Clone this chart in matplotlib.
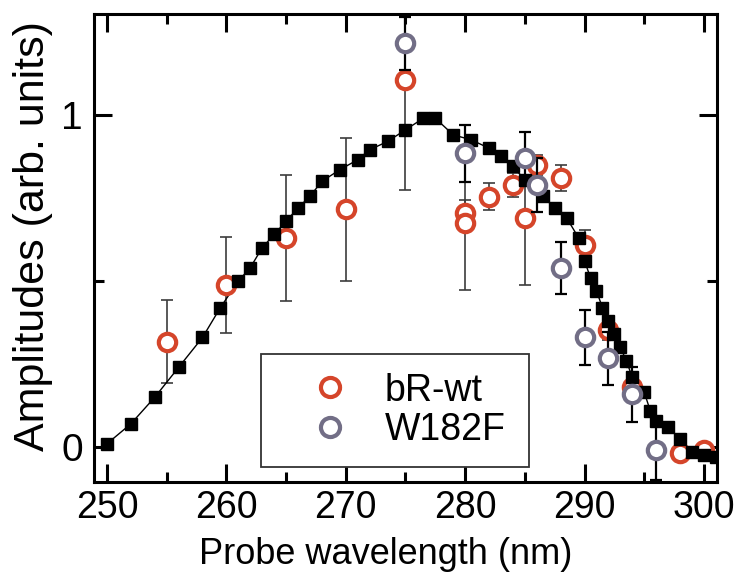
import matplotlib
matplotlib.use('Agg')
import matplotlib.pyplot as plt
from matplotlib.ticker import MultipleLocator

# absorption spectrum (black squares)
curve_wl = [250, 252, 254, 256, 258, 259.5, 261, 262, 263, 264, 265, 266, 267, 268,
            269.5, 271, 272, 273.5, 275, 276.5, 277.5, 279, 280.5, 282, 283, 284, 285,
            286.5, 287.5, 288.5, 289.5, 290, 290.5, 291, 291.5, 292, 292.5, 293, 293.5,
            294, 295, 295.5, 296, 297, 298, 299, 300, 301]
curve_amp = [0.01, 0.07, 0.15, 0.24, 0.33, 0.42, 0.50, 0.54, 0.60, 0.64, 0.68, 0.72, 0.755, 0.80,
             0.835, 0.865, 0.895, 0.92, 0.955, 0.99, 0.99, 0.94, 0.925, 0.90, 0.875, 0.845, 0.805,
             0.755, 0.72, 0.69, 0.63, 0.56, 0.51, 0.47, 0.42, 0.38, 0.34, 0.30, 0.26,
             0.21, 0.165, 0.11, 0.08, 0.06, 0.025, -0.015, -0.025, -0.03]

# bR-wt
wt_wl = [255, 260, 265, 270, 275, 280, 280, 282, 284, 285, 286, 288, 290, 292, 294, 298, 300]
wt_amp = [0.317, 0.488, 0.629, 0.716, 1.105, 0.704, 0.674, 0.754, 0.789, 0.689, 0.85, 0.81,
          0.608, 0.352, 0.182, -0.019, -0.009]
wt_err = [0.125, 0.145, 0.19, 0.215, 0.33, 0.04, 0.20, 0.04, 0.035, 0.20, 0.03, 0.04,
          0.045, 0.03, 0.03, 0, 0]

# W182F
mut_wl = [275, 280, 285, 286, 288, 290, 292, 294, 296]
mut_amp = [1.216, 0.884, 0.87, 0.789, 0.538, 0.33, 0.267, 0.159, -0.009]
mut_err = [0.08, 0.085, 0.078, 0.08, 0.078, 0.083, 0.08, 0.083, 0.09]

red = '#d5452a'
purple = '#726e86'
font = ['Liberation Sans', 'DejaVu Sans']

fig = plt.figure(figsize=(7.37, 5.8), dpi=100)
ax = fig.add_axes([0.1275, 0.169, 0.8453, 0.807])

ax.errorbar(wt_wl, wt_amp, yerr=wt_err, fmt='none', ecolor='#3c3c3c', elinewidth=1.2,
            capsize=4.5, capthick=1.2, zorder=2)
ax.plot(curve_wl, curve_amp, '-', color='black', lw=1, zorder=3)
ax.plot(wt_wl, wt_amp, 'o', mfc='white', mec=red, ms=12.5, mew=3, zorder=3.5, label='bR-wt')
ax.plot(curve_wl, curve_amp, 's', color='black', ms=8, zorder=4)
ax.errorbar(mut_wl, mut_amp, yerr=mut_err, fmt='none', ecolor='black', elinewidth=1.6,
            capsize=4.5, capthick=1.6, zorder=4.5)
ax.plot(mut_wl, mut_amp, 'o', mfc='white', mec=purple, ms=12.5, mew=3, zorder=5, label='W182F')

ax.set_xlim(248.91, 301.09)
ax.set_ylim(-0.105, 1.304)
ax.xaxis.set_major_locator(MultipleLocator(10))
ax.xaxis.set_minor_locator(MultipleLocator(5))
ax.yaxis.set_major_locator(MultipleLocator(1))
ax.yaxis.set_minor_locator(MultipleLocator(0.5))
ax.tick_params(which='both', direction='in', top=True, right=True, width=2.2)
ax.tick_params(which='major', length=13, labelsize=27, pad=6)
ax.tick_params(axis='y', which='major', labelsize=28, pad=8)
ax.tick_params(which='minor', length=7)
for lab in ax.get_xticklabels() + ax.get_yticklabels():
    lab.set_family(font)
for sp in ax.spines.values():
    sp.set_linewidth(2.2)

ax.set_xlabel('Probe wavelength (nm)', fontsize=26, family=font)
ax.set_ylabel('Amplitudes (arb. units)', fontsize=31, family=font)
ax.xaxis.set_label_coords(0.469, -0.118)
ax.yaxis.set_label_coords(-0.066, 0.525)

leg = ax.legend(loc='lower left', bbox_to_anchor=(0.268, 0.032, 0.43, 0.269), mode='expand',
                borderaxespad=0, fancybox=False, edgecolor='#333333', framealpha=1,
                prop={'family': font, 'size': 27}, borderpad=0.5, handlelength=2.7,
                handletextpad=0.1, labelspacing=0.1, markerscale=1.1)
leg.get_frame().set_linewidth(1.3)

fig.savefig('out.png', dpi=100)
